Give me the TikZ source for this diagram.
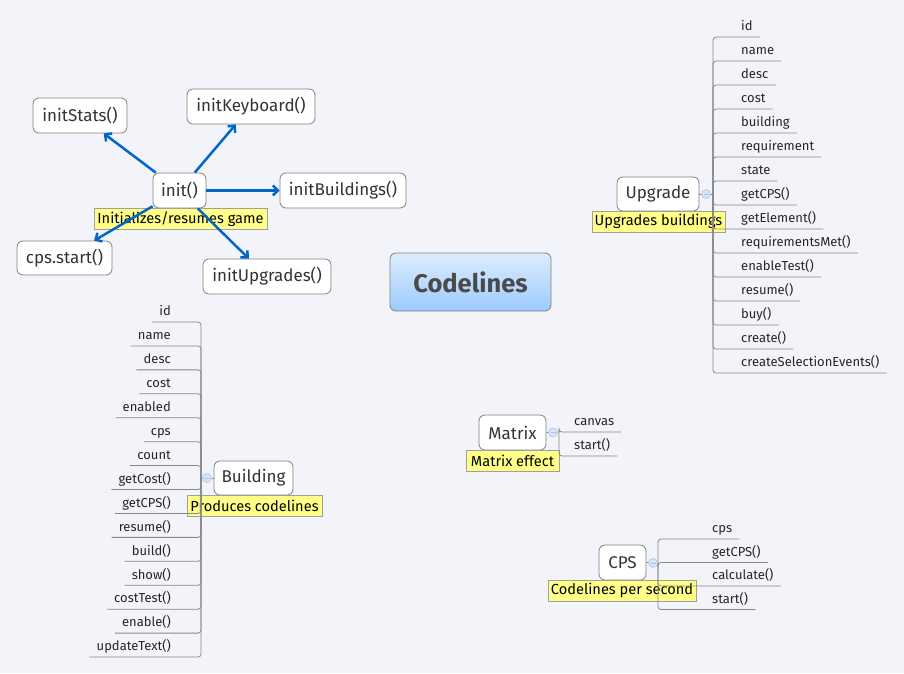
\documentclass[tikz,border=0pt]{standalone}
\usepackage{fontspec}
\setmainfont{Fira Sans}
\usetikzlibrary{arrows.meta}
\definecolor{bg}{HTML}{F2F4F9}
\definecolor{bordergray}{HTML}{808080}
\definecolor{linegray}{HTML}{888888}
\definecolor{textdark}{HTML}{333333}
\definecolor{labelyellow}{HTML}{FFFF88}
\definecolor{labelborder}{HTML}{A0A0A0}
\definecolor{arrowblue}{HTML}{0066CC}
\definecolor{ctop}{HTML}{DDECFC}
\definecolor{cbot}{HTML}{9CCBFF}
\definecolor{ctext}{HTML}{4A4A4A}
\definecolor{colfill}{HTML}{D8E6F8}
\definecolor{colline}{HTML}{A6C2EA}
\begin{document}
\begin{tikzpicture}[x=1pt,y=-1pt,
  topic/.style={draw=bordergray, fill=white, rounded corners=6pt, inner sep=0pt,
    font=\fontsize{17}{19}\selectfont, text=textdark, line width=0.8pt},
  note/.style={draw=labelborder, fill=labelyellow, inner sep=0pt, minimum height=21pt,
    font=\fontsize{14.6}{16}\selectfont, text=black, anchor=north, line width=0.6pt},
  itemR/.style={inner xsep=7pt, inner ysep=6pt, text depth=0pt, anchor=south west,
    font=\fontsize{13}{15}\selectfont, text=black!85},
  itemL/.style={itemR, anchor=south east},
  branch/.style={draw=linegray, line width=0.8pt, rounded corners=3pt},
  arr/.style={draw=arrowblue, line width=2.5pt, -{Straight Barb[length=5pt,width=10pt]}},
  collapse/.style={circle, draw=colline, fill=colfill, minimum size=9pt, inner sep=0pt,
    line width=0.6pt,
    path picture={\draw[colline, line width=0.7pt]
      ([xshift=-2.5pt]path picture bounding box.center) --
      ([xshift=2.5pt]path picture bounding box.center);}}
]
\fill[bg] (0,0) rectangle (904,673);
\useasboundingbox (0,0) rectangle (904,673);

% central
\node[draw=bordergray, rounded corners=6pt, top color=ctop, bottom color=cbot,
  minimum width=161pt, minimum height=58pt, inner sep=0pt, line width=0.8pt,
  font=\fontsize{25.5}{28}\selectfont\bfseries, text=ctext] (central) at (470.5,282) {Codelines};

% init cluster
\node[topic, minimum width=94pt, minimum height=35pt] (initStats) at (80,115.5) {initStats()};
\node[topic, minimum width=128pt, minimum height=35pt] (initKeyboard) at (251,106.5) {initKeyboard()};
\node[topic, minimum width=53pt, minimum height=35pt] (init) at (179.5,190.5) {init()};
\node[topic, minimum width=126pt, minimum height=35pt] (initBuildings) at (343,190.5) {initBuildings()};
\node[topic, minimum width=95pt, minimum height=34pt] (cpsstart) at (64.5,258) {cps.start()};
\node[topic, minimum width=128pt, minimum height=35pt] (initUpgrades) at (267,276.5) {initUpgrades()};
\node[note, minimum width=173pt] (initnote) at (180.5,208) {Initializes/resumes game};
\draw[arr] (init) -- (initStats);
\draw[arr] (init) -- (initKeyboard);
\draw[arr] (init) -- (initBuildings);
\draw[arr] (init) -- (cpsstart);
\draw[arr] (init) -- (initUpgrades);

% Upgrade
\node[topic, minimum width=82pt, minimum height=34pt] (upgrade) at (658,194) {Upgrade};
\node[note, minimum width=133pt] (upnote) at (658.5,211) {Upgrades buildings};
\coordinate (jU) at (713,194);
\foreach \t [count=\i from 0] in {id,name,desc,cost,building,requirement,state,getCPS(),getElement(),requirementsMet(),enableTest(),resume(),buy(),create(),createSelectionEvents()} {
  \node[itemR] (u\i) at (734,37+24*\i) {\t};
  \draw[branch] (jU) |- (u\i.south east);
}
\draw[linegray, line width=0.8pt] (upgrade.east) -- (jU);
\node[collapse] (ucol) at (706,194) {};

% Building
\node[topic, minimum width=79pt, minimum height=34pt] (building) at (253.5,478) {Building};
\node[note, minimum width=135pt] (bnote) at (254.5,495) {Produces codelines};
\coordinate (jB) at (201,478);
\foreach \t [count=\i from 0] in {id,name,desc,cost,enabled,cps,count,getCost(),getCPS(),resume(),build(),show(),costTest(),enable(),updateText()} {
  \node[itemL] (b\i) at (178,322+23.93*\i) {\t};
  \draw[branch] (jB) |- (b\i.south west);
}
\draw[linegray, line width=0.8pt] (building.west) -- (jB);
\node[collapse] (bcol) at (207,478) {};

% Matrix
\node[topic, minimum width=67pt, minimum height=35pt] (matrix) at (512.5,432.5) {Matrix};
\node[note, minimum width=93pt] (mnote) at (512.5,450) {Matrix effect};
\coordinate (jM) at (559,432);
\node[itemR] (m0) at (567,432) {canvas};
\node[itemR] (m1) at (567,456) {start()};
\draw[branch] (jM) |- (m0.south east);
\draw[branch] (jM) |- (m1.south east);
\draw[linegray, line width=0.8pt] (matrix.east) -- (jM);
\node[collapse] (mcol) at (553,432.5) {};

% CPS
\node[topic, minimum width=47pt, minimum height=35pt] (cps) at (622.5,562.5) {CPS};
\node[note, minimum width=148pt] (cnote) at (622,580) {Codelines per second};
\coordinate (jC) at (658,563);
\foreach \t [count=\i from 0] in {cps,getCPS(),calculate(),start()} {
  \node[itemR] (c\i) at (705,539+23.5*\i) {\t};
  \draw[branch] (jC) |- (c\i.south east);
}
\draw[linegray, line width=0.8pt] (cps.east) -- (jC);
\node[collapse] (ccol) at (653,563) {};
\end{tikzpicture}
\end{document}
